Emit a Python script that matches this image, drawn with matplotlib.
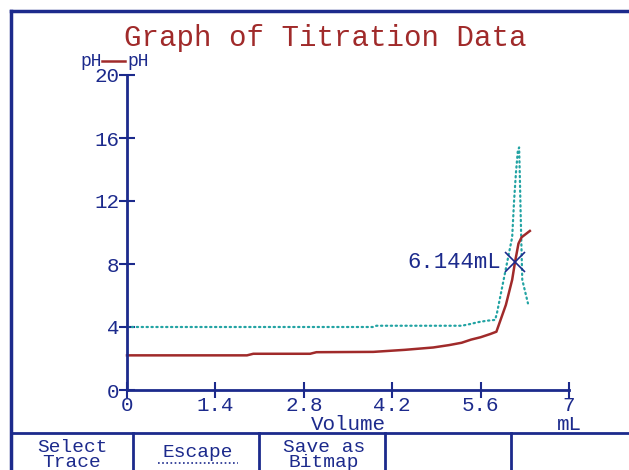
import matplotlib
matplotlib.use("Agg")
import matplotlib.pyplot as plt
from matplotlib.lines import Line2D

# ---- data ----
ph_volume = [0.0, 1.0, 1.9, 2.0, 2.9, 3.0, 3.9, 4.4, 4.85, 5.1, 5.3, 5.45, 5.6, 5.75,
             5.85, 6.0, 6.1, 6.144, 6.2, 6.25, 6.38]
ph_values = [2.2, 2.2, 2.2, 2.3, 2.3, 2.4, 2.42, 2.55, 2.7, 2.85, 3.0, 3.2, 3.35, 3.55,
             3.7, 5.4, 7.0, 8.1, 9.3, 9.7, 10.1]

d_volume = [0.0, 3.9, 3.95, 5.3, 5.45, 5.55, 5.7, 5.83, 5.86, 6.10, 6.13, 6.16,
            6.19, 6.21, 6.22, 6.24, 6.26, 6.35]
d_values = [4.0, 4.0, 4.08, 4.08, 4.2, 4.3, 4.4, 4.45, 4.9, 9.7, 12.0, 13.8,
            15.2, 15.4, 13.8, 10.2, 7.0, 5.5]

marker_x = 6.144
marker_y = 8.1
marker_label = "6.144mL"

x_ticks = [0, 1.4, 2.8, 4.2, 5.6, 7]
x_tick_labels = ["0", "1.4", "2.8", "4.2", "5.6", "7"]
y_ticks = [0, 4, 8, 12, 16, 20]
y_tick_labels = ["0", "4", "8", "12", "16", "20"]

title = "Graph of Titration Data"
x_label = "Volume"
x_unit = "mL"
y_label = "pH"
legend_label = "pH"
buttons = ["Select\nTrace", "Escape", "Save as\nBitmap", "", ""]

# ---- style ----
BLUE = "#1c2a8c"
RED = "#a02a2a"
TEAL = "#22a3a3"
FONT = "Liberation Mono"

W, H = 629, 470
fig = plt.figure(figsize=(W / 100, H / 100), dpi=100)
fig.patch.set_facecolor("white")

def fx(px):
    return px / W

def fy(py):
    return 1 - py / H

ax = fig.add_axes([fx(127), fy(390), fx(569) - fx(127), fy(75) - fy(390)])
ax.set_xlim(0, 7)
ax.set_ylim(0, 20)
ax.patch.set_alpha(0)

ax.plot(d_volume, d_values, color=TEAL, lw=1.6, linestyle=(0, (0.6, 1.6)),
        dash_capstyle="round", clip_on=False)
ax.plot(ph_volume, ph_values, color=RED, lw=1.8, clip_on=False)
ax.plot([marker_x], [marker_y], marker="x", color=BLUE, ms=15, mew=1.2)
ax.annotate(marker_label, (marker_x, marker_y), xytext=(-10, 0),
            textcoords="offset points", ha="right", va="center",
            color=BLUE, fontsize=16, family=FONT)

for s in ["top", "right"]:
    ax.spines[s].set_visible(False)
for s in ["left", "bottom"]:
    ax.spines[s].set_color(BLUE)
    ax.spines[s].set_linewidth(2)

ax.set_xticks(x_ticks)
ax.set_xticklabels(x_tick_labels)
ax.set_yticks(y_ticks)
ax.set_yticklabels(y_tick_labels)
ax.tick_params(axis="both", direction="inout", length=11, width=1.5, color=BLUE,
               labelcolor=BLUE, labelsize=15)
ax.tick_params(axis="x", pad=-1)
ax.tick_params(axis="y", pad=0)
for lab in ax.get_xticklabels() + ax.get_yticklabels():
    lab.set_family(FONT)

# axis labels
ax.text(3.5, -0.078, x_label, transform=ax.get_xaxis_transform(), ha="center",
        va="top", color=BLUE, fontsize=15, family=FONT)
ax.text(7, -0.078, x_unit, transform=ax.get_xaxis_transform(), ha="center",
        va="top", color=BLUE, fontsize=15, family=FONT)

# title
fig.text(fx(325), fy(38), title, ha="center", va="center", color=RED,
         fontsize=21, family=FONT)

# y label and legend
fig.text(fx(80), fy(62), y_label, ha="left", va="center", color=BLUE,
         fontsize=13, family=FONT)
fig.add_artist(Line2D([fx(102), fx(125)], [fy(61), fy(61)], color=RED, lw=1.8))
fig.text(fx(127), fy(62), legend_label, ha="left", va="center", color=BLUE,
         fontsize=13, family=FONT)

# frame
fig.add_artist(Line2D([fx(11), fx(11)], [fy(11), 0], color=BLUE, lw=2.5))
fig.add_artist(Line2D([fx(11), 1], [fy(11), fy(11)], color=BLUE, lw=2.5))
fig.add_artist(Line2D([fx(11), 1], [fy(433), fy(433)], color=BLUE, lw=2))
for px in [133, 259, 385, 511]:
    fig.add_artist(Line2D([fx(px), fx(px)], [fy(433), 0], color=BLUE, lw=2))

centers = [72, 198, 324, 448, 570]
for c, b in zip(centers, buttons):
    if not b:
        continue
    top = 439 if "\n" in b else 444
    fig.text(fx(c), fy(top), b, ha="center", va="top", color=BLUE, fontsize=14,
             family=FONT, linespacing=0.85)
    if b == "Escape":
        fig.add_artist(Line2D([fx(c - 40), fx(c + 40)], [fy(463), fy(463)],
                              color=BLUE, lw=1.2, linestyle=(0, (1, 1.5))))

fig.savefig("out.png", dpi=100, facecolor="white")
